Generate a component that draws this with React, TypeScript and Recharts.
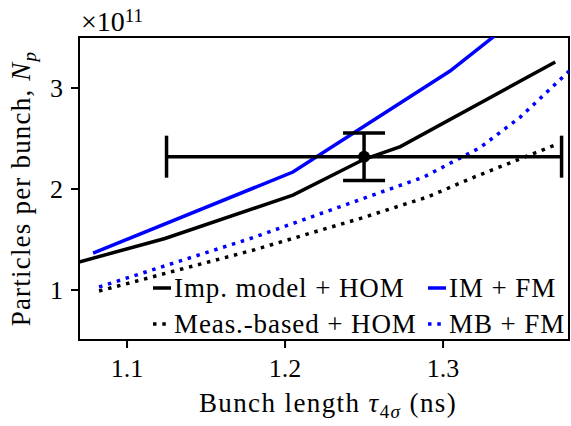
import React from 'react';
import {
  ComposedChart,
  Line,
  Scatter,
  XAxis,
  YAxis,
  ErrorBar,
  ReferenceArea,
  Customized,
} from 'recharts';

// ---- data ----
const xDomain: [number, number] = [1.0696, 1.3797];
const yDomain: [number, number] = [0.505, 3.505];
const xTicks = [1.1, 1.2, 1.3];
const yTicks = [1, 2, 3];

// Imp. model + HOM (black solid)
const impHomTau = [1.0696, 1.124, 1.205, 1.25, 1.273, 1.371];
const impHomNp = [1.277, 1.51, 1.94, 2.294, 2.42, 3.257];
// Meas.-based + HOM (black dotted)
const measHomTau = [1.0823, 1.181, 1.25, 1.29, 1.32, 1.371];
const measHomNp = [0.99, 1.4, 1.72, 1.92, 2.12, 2.436];
// IM + FM (blue solid)
const imFmTau = [1.0785, 1.205, 1.3044, 1.371];
const imFmNp = [1.366, 2.168, 3.168, 3.99];
// MB + FM (blue dotted)
const mbFmTau = [1.0823, 1.18, 1.288, 1.3234, 1.3487, 1.38];
const mbFmNp = [1.03, 1.52, 2.12, 2.41, 2.71, 3.17];

// measurement with error bars
const measTau = [1.25];
const measNp = [2.32];
const measTauErr = [0.125];
const measNpErr = [0.235];

const legendLabels = ['Imp. model + HOM', 'Meas.-based + HOM', 'IM + FM', 'MB + FM'];

const toPts = (xs: number[], ys: number[]) => xs.map((x, i) => ({ x, y: ys[i] }));
const impHom = toPts(impHomTau, impHomNp);
const measHom = toPts(measHomTau, measHomNp);
const imFm = toPts(imFmTau, imFmNp);
const mbFm = toPts(mbFmTau, mbFmNp);
const meas = measTau.map((x, i) => ({ x, y: measNp[i], ex: measTauErr[i], ey: measNpErr[i] }));

const FONT = '"Liberation Serif", "DejaVu Serif", serif';
const BLUE = '#0000ff';
const LW = 3.5;
const DOT = '3.5 5.8';
const TXT = 27;

const Overlay = () => {
  const items = [
    { label: legendLabels[0], color: '#000', dash: undefined, x: 153, y: 297 },
    { label: legendLabels[1], color: '#000', dash: DOT, x: 153, y: 333 },
    { label: legendLabels[2], color: BLUE, dash: undefined, x: 428, y: 297 },
    { label: legendLabels[3], color: BLUE, dash: DOT, x: 428, y: 333 },
  ];
  return (
    <g fontFamily={FONT} fill="#000">
      {items.map((it, i) => (
        <g key={i}>
          <line
            x1={it.x}
            x2={it.x + 18}
            y1={it.y - 9}
            y2={it.y - 9}
            stroke={it.color}
            strokeWidth={LW}
            strokeDasharray={it.dash}
          />
          <text x={it.x + 21} y={it.y} fontSize={TXT} letterSpacing={0.9}>
            {it.label}
          </text>
        </g>
      ))}
      <text x={81} y={31} fontSize={28}>
        ×10
        <tspan dy={-9} fontSize={19}>
          11
        </tspan>
      </text>
      <text x={328} y={412} fontSize={TXT} letterSpacing={1.4} textAnchor="middle">
        Bunch length <tspan fontStyle="italic">τ</tspan>
        <tspan dy={6} fontSize={19}>4</tspan>
        <tspan fontSize={19} fontStyle="italic">σ</tspan>
        <tspan dy={-6}> (ns)</tspan>
      </text>
      <text transform="translate(30,188.5) rotate(-90)" fontSize={TXT} letterSpacing={1.2} textAnchor="middle">
        Particles per bunch, <tspan fontStyle="italic">N</tspan>
        <tspan dy={6} fontSize={19} fontStyle="italic">p</tspan>
      </text>
    </g>
  );
};

export default function App() {
  return (
    <div style={{ position: 'absolute', left: 0, top: 0, background: '#fff' }}>
      <ComposedChart width={571} height={426} margin={{ top: 37, right: 2, bottom: 0, left: 0 }}>
        <XAxis
          dataKey="x"
          type="number"
          domain={xDomain}
          ticks={xTicks}
          allowDataOverflow
          height={86}
          tickSize={8}
          tickMargin={11}
          axisLine={{ stroke: '#000', strokeWidth: 2 }}
          tickLine={{ stroke: '#000', strokeWidth: 2 }}
          tick={{ fill: '#000', fontSize: 26, fontFamily: FONT }}
          tickFormatter={(v: number) => v.toFixed(1)}
        />
        <YAxis
          dataKey="y"
          type="number"
          domain={yDomain}
          ticks={yTicks}
          allowDataOverflow
          width={79}
          tickSize={8}
          tickMargin={8}
          axisLine={{ stroke: '#000', strokeWidth: 2 }}
          tickLine={{ stroke: '#000', strokeWidth: 2 }}
          tick={{ fill: '#000', fontSize: 26, fontFamily: FONT }}
          tickFormatter={(v: number) => String(v)}
        />
        <ReferenceArea
          x1={xDomain[0]}
          x2={xDomain[1]}
          y1={yDomain[0]}
          y2={yDomain[1]}
          fill="none"
          fillOpacity={0}
          stroke="#000"
          strokeWidth={2}
          ifOverflow="visible"
        />
        <Line data={impHom} dataKey="y" type="linear" stroke="#000" strokeWidth={LW} dot={false} isAnimationActive={false} />
        <Line data={measHom} dataKey="y" type="linear" stroke="#000" strokeWidth={LW} strokeDasharray={DOT} dot={false} isAnimationActive={false} />
        <Line data={imFm} dataKey="y" type="linear" stroke={BLUE} strokeWidth={LW} dot={false} isAnimationActive={false} />
        <Line data={mbFm} dataKey="y" type="linear" stroke={BLUE} strokeWidth={LW} strokeDasharray={DOT} dot={false} isAnimationActive={false} />
        <Scatter
          data={meas}
          dataKey="y"
          fill="#000"
          isAnimationActive={false}
          shape={(p: any) => <circle cx={p.cx} cy={p.cy} r={6} fill="#000" />}
        >
          <ErrorBar dataKey="ex" direction="x" width={21} stroke="#000" strokeWidth={LW} />
          <ErrorBar dataKey="ey" direction="y" width={21} stroke="#000" strokeWidth={LW} />
        </Scatter>
        <Customized component={Overlay} />
      </ComposedChart>
    </div>
  );
}
